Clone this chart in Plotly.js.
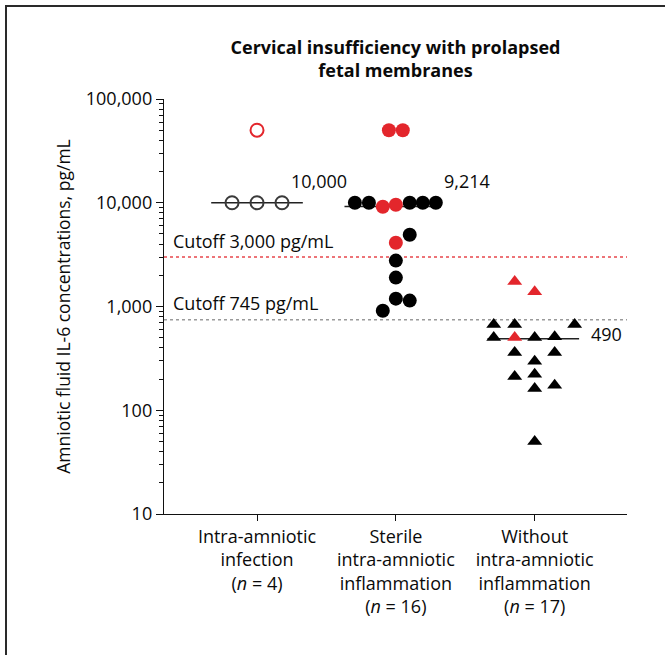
<!DOCTYPE html>
<html>
<head>
<meta charset="utf-8">
<script src="https://cdn.plot.ly/plotly-3.0.1.min.js"></script>
<style>
  html, body { margin: 0; padding: 0; background: #fff; }
  #wrap { position: relative; width: 665px; height: 655px; overflow: hidden; }
  #chart { width: 665px; height: 655px; }
  #frame { position: absolute; left: 5px; top: 5px; width: 2000px; height: 2000px;
           border-left: 2px solid #2a2a2a; border-top: 2px solid #2a2a2a; pointer-events: none; }
</style>
</head>
<body>
<div id="wrap"><div id="chart"></div><div id="frame"></div></div>
<script>
// ---- data ----
const categories = [
  'Intra-amniotic<br>infection<br>(<i>n</i> = 4)',
  'Sterile<br>intra-amniotic<br>inflammation<br>(<i>n</i> = 16)',
  'Without<br>intra-amniotic<br>inflammation<br>(<i>n</i> = 17)'
];
// Group 1: intra-amniotic infection (open circles)
const infValues  = [50000, 10000, 10000, 10000];
const infJitter  = [0, -0.18, 0, 0.18];
const infRed     = [true, false, false, false];
// Group 2: sterile intra-amniotic inflammation (filled circles)
const sterValues = [50000, 50000, 10000, 10000, 10000, 10000, 10000, 9160, 9550, 4920, 4120, 2770, 1900, 1190, 1140, 910];
const sterJitter = [-0.05, 0.05, -0.295, -0.194, 0.1, 0.194, 0.288, -0.094, 0, 0.1, 0, 0, 0, 0, 0.1, -0.094];
const sterRed    = [true, true, false, false, false, false, false, true, true, false, true, false, false, false, false, false];
// Group 3: without intra-amniotic inflammation (triangles)
const woValues   = [1740, 1390, 503, 670, 670, 670, 503, 503, 510, 361, 361, 296, 212, 222, 162, 174, 50];
const woJitter   = [-0.144, 0, -0.144, -0.295, -0.144, 0.288, -0.295, 0, 0.144, -0.144, 0.144, 0, -0.144, 0, 0, 0.144, 0];
const woRed      = [true, true, true, false, false, false, false, false, false, false, false, false, false, false, false, false, false];
// medians
const medians      = [10000, 9214, 490];
const medianLabels = ['10,000', '9,214', '490'];
const cutoffs      = [3000, 745];
const cutoffLabels = ['Cutoff 3,000 pg/mL', 'Cutoff 745 pg/mL'];
const yTickVals  = [10, 100, 1000, 10000, 100000];
const yTickText  = ['10', '100', '1,000', '10,000', '100,000'];

// ---- build ----
const RED = '#e3262c', BLACK = '#000000';
const FONT = 'Open Sans, Noto Sans, sans-serif';
const FS = 18;
const TXT = '#0a0a0a';
function xs(group, jit) { return jit.map(j => group + j); }

const traces = [];
const medHalf = [0.33, 0.34, 0.33];
const medCenter = [0, -0.03, -0.01];
medians.forEach((m, i) => {
  traces.push({
    x: [i + medCenter[i] - medHalf[i], i + medCenter[i] + medHalf[i]], y: [m, m],
    mode: 'lines', line: { color: '#222', width: 1.5 }, hoverinfo: 'skip', showlegend: false
  });
});
traces.push({ x: [-0.67, 2.665], y: [cutoffs[0], cutoffs[0]], mode: 'lines',
  line: { color: '#e8474c', width: 1.5, dash: 'dot' }, showlegend: false, hoverinfo: 'skip' });
traces.push({ x: [-0.67, 2.665], y: [cutoffs[1], cutoffs[1]], mode: 'lines',
  line: { color: '#9a9a9a', width: 1.5, dash: 'dot' }, showlegend: false, hoverinfo: 'skip' });

traces.push({
  x: xs(0, infJitter), y: infValues, mode: 'markers', showlegend: false,
  marker: { symbol: 'circle-open', size: 13, color: infRed.map(r => r ? RED : '#3a3a3a'), line: { width: 2 } }
});
traces.push({
  x: xs(1, sterJitter), y: sterValues, mode: 'markers', showlegend: false,
  marker: { symbol: 'circle', size: 14, color: sterRed.map(r => r ? RED : BLACK), line: { width: 0 } }
});
traces.push({
  x: xs(2, woJitter), y: woValues, mode: 'markers', showlegend: false,
  marker: { symbol: 'triangle-up', size: 13, color: woRed.map(r => r ? RED : BLACK), line: { width: 0 } }
});

const minorVals = [];
[10, 100, 1000, 10000].forEach(d => { for (let k = 2; k <= 9; k++) minorVals.push(d * k); });

const annotations = [
  { x: 0.45, y: 4.21, text: medianLabels[0] },
  { x: 1.51, y: 4.21, text: medianLabels[1] },
  { x: 2.52, y: Math.log10(medians[2]) + 0.04, text: medianLabels[2] },
  { x: -0.62, y: Math.log10(cutoffs[0]) + 0.15, text: cutoffLabels[0], xanchor: 'left' },
  { x: -0.62, y: Math.log10(cutoffs[1]) + 0.16, text: cutoffLabels[1], xanchor: 'left' }
].map(a => Object.assign({ xref: 'x', yref: 'y', showarrow: false, font: { family: FONT, size: FS, color: TXT } }, a));

const layout = {
  width: 665, height: 655,
  margin: { l: 164, r: 38, t: 99, b: 141 },
  paper_bgcolor: '#fff', plot_bgcolor: '#fff',
  font: { family: FONT, size: FS, color: TXT },
  title: { text: '<b>Cervical insufficiency with prolapsed<br>fetal membranes</b>',
           x: 0.5, xref: 'paper', yref: 'container', y: 1 - 54 / 655, yanchor: 'top',
           font: { family: FONT, size: 18, color: TXT } },
  xaxis: {
    range: [-0.67, 2.665], tickvals: [0, 1, 2], ticktext: categories,
    showgrid: false, zeroline: false, showline: true, linecolor: '#111', linewidth: 1.2,
    ticks: 'outside', ticklen: 6, tickcolor: '#111', tickfont: { family: FONT, size: FS, color: TXT }
  },
  yaxis: {
    type: 'log', range: [1, 5], tickvals: yTickVals, ticktext: yTickText,
    showgrid: false, zeroline: false, showline: true, linecolor: '#111', linewidth: 1.2,
    ticks: 'outside', ticklen: 7, tickcolor: '#111', tickfont: { family: FONT, size: FS, color: TXT },
    minor: { tickmode: 'array', tickvals: minorVals, ticks: 'outside', ticklen: 4, tickcolor: '#111', showgrid: false },
    title: { text: 'Amniotic fluid IL-6 concentrations, pg/mL', font: { family: FONT, size: 17.5, color: TXT }, standoff: 10 }
  },
  annotations: annotations,
  showlegend: false
};

Plotly.newPlot('chart', traces, layout, { staticPlot: true });
</script>
</body>
</html>
